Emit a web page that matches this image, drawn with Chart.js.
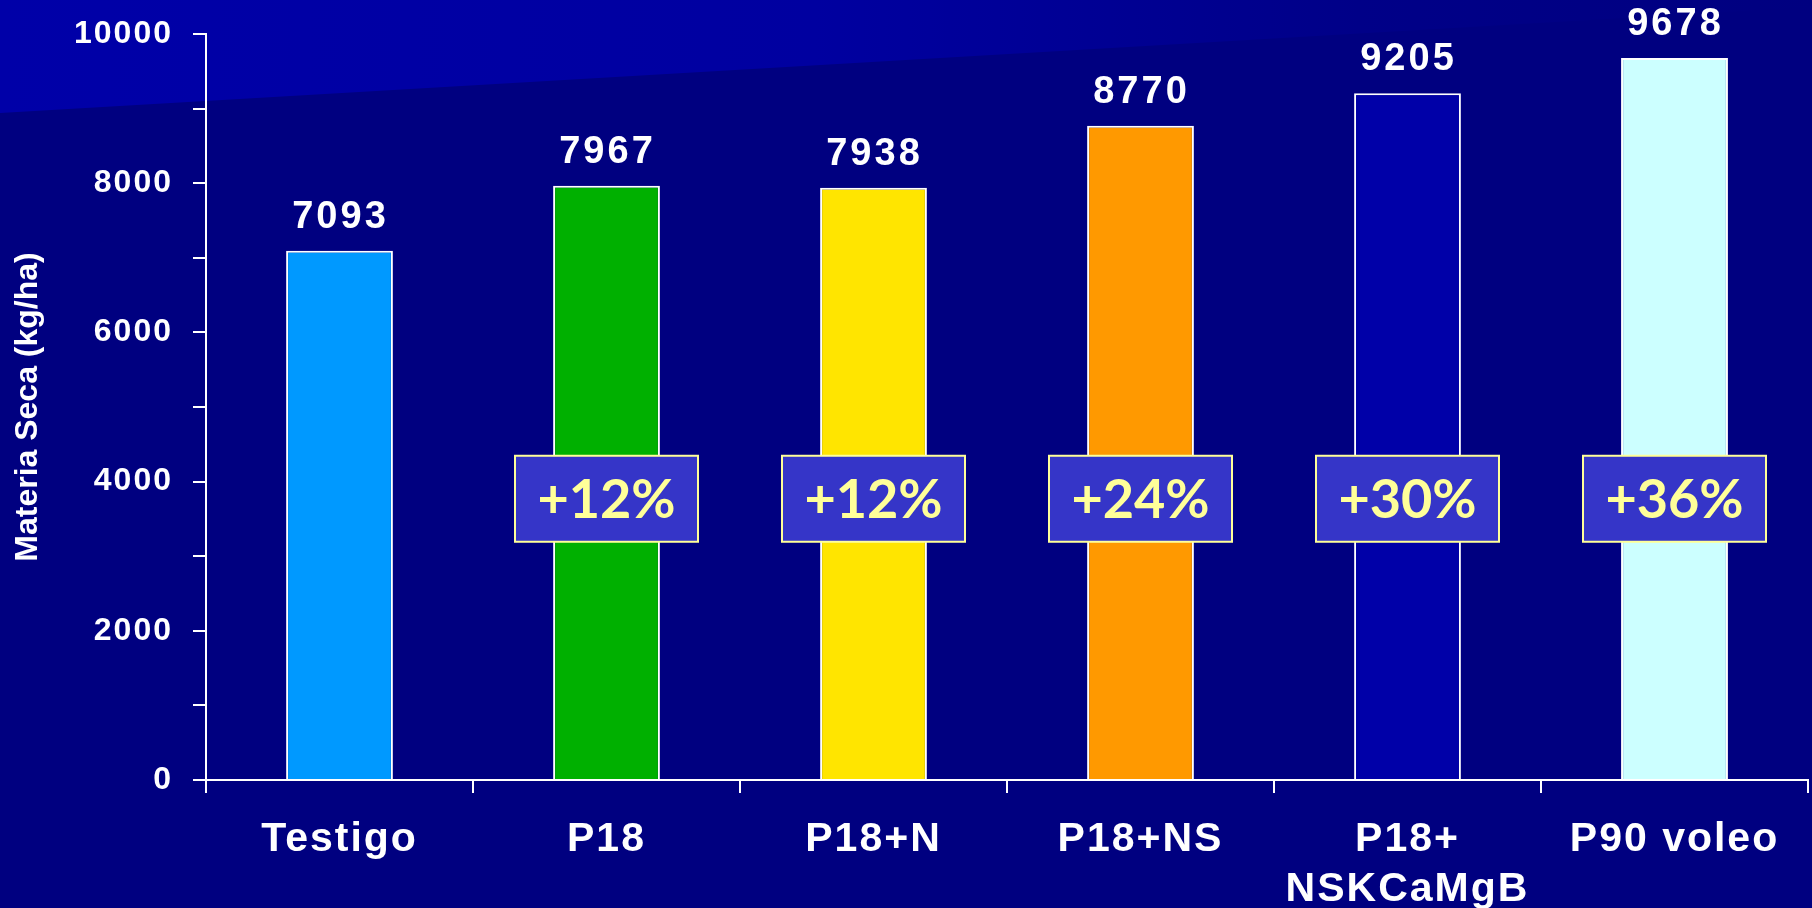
<!DOCTYPE html>
<html lang="es">
<head>
<meta charset="UTF-8">
<title>Materia Seca</title>
<script src="https://cdn.jsdelivr.net/npm/chart.js"></script>
<style>
    html, body { margin: 0; padding: 0; background: #000080; overflow: hidden; }
</style>
</head>
<body>

<canvas id="myBarChart" width="1812" height="908"></canvas>

<script>
// data
var categories = ['Testigo', 'P18', 'P18+N', 'P18+NS', ['P18+', 'NSKCaMgB'], 'P90 voleo'];
var materiaSeca = [7093, 7967, 7938, 8770, 9205, 9678];
var increments = ['', '+12%', '+12%', '+24%', '+30%', '+36%'];
var barColors = ['#0099FF', '#00B000', '#FFE500', '#FF9900', '#0000A8', '#CCFFFF'];
var yLabelValues = [0, 2000, 4000, 6000, 8000, 10000];
var yTitle = 'Materia Seca (kg/ha)';

var white = '#FFFFFF';
var boldFont = "'Liberation Sans', Arial, sans-serif";

// slide background with the lighter band in the top-left corner
var backgroundPlugin = {
    id: 'slideBackground',
    beforeDraw: function (chart) {
        var ctx = chart.ctx;
        var w = chart.width;
        ctx.save();
        ctx.fillStyle = '#000080';
        ctx.fillRect(0, 0, w, chart.height);
        var grad = ctx.createLinearGradient(0, 0, w, 0);
        grad.addColorStop(0, 'rgb(0,0,168)');
        grad.addColorStop(0.45, 'rgb(0,0,160)');
        grad.addColorStop(0.75, 'rgb(0,0,136)');
        grad.addColorStop(1, 'rgb(0,0,128)');
        ctx.fillStyle = grad;
        ctx.beginPath();
        ctx.moveTo(0, 0);
        ctx.lineTo(w, 0);
        ctx.lineTo(w, 7);
        ctx.lineTo(0, 113);
        ctx.closePath();
        ctx.fill();
        ctx.restore();
        // the slide text is slightly spaced out
        ctx.letterSpacing = '2px';
    }
};

// value on top of each bar, the yellow percentage boxes and the y title
var annotationPlugin = {
    id: 'barAnnotations',
    afterDatasetsDraw: function (chart, args, opts) {
        var ctx = chart.ctx;
        var meta = chart.getDatasetMeta(0);
        var yScale = chart.scales.y;
        var xScale = chart.scales.x;
        var area = chart.chartArea;

        ctx.save();
        ctx.letterSpacing = '3px';
        ctx.fillStyle = white;
        ctx.font = 'bold 38px ' + boldFont;
        ctx.textAlign = 'center';
        ctx.textBaseline = 'alphabetic';
        meta.data.forEach(function (bar, i) {
            ctx.fillText(String(materiaSeca[i]), bar.x + 1, bar.y - 23);
        });
        ctx.restore();

        ctx.save();
        ctx.letterSpacing = '0px';
        var boxW = 183, boxH = 86;
        var cy = yScale.getPixelForValue(opts.boxValue);
        increments.forEach(function (txt, i) {
            if (!txt) return;
            var cx = xScale.getPixelForValue(i);
            ctx.fillStyle = '#3535C8';
            ctx.fillRect(cx - boxW / 2, cy - boxH / 2, boxW, boxH);
            ctx.strokeStyle = '#FFFF99';
            ctx.lineWidth = 2;
            ctx.strokeRect(cx - boxW / 2, cy - boxH / 2, boxW, boxH);
            ctx.fillStyle = '#FFFF99';
            ctx.font = "bold 54px 'Comic Sans MS', Lato, sans-serif";
            ctx.textAlign = 'center';
            ctx.textBaseline = 'middle';
            ctx.fillText(txt, cx, cy + 2);
        });
        ctx.restore();

        // rotated axis title, plain spacing
        ctx.save();
        ctx.letterSpacing = '0px';
        ctx.translate(28, (area.top + area.bottom) / 2);
        ctx.rotate(-Math.PI / 2);
        ctx.fillStyle = white;
        ctx.font = 'bold 32px ' + boldFont;
        ctx.textAlign = 'center';
        ctx.textBaseline = 'middle';
        ctx.fillText(yTitle, 0, 0);
        ctx.restore();
    }
};

var ctxBar = document.getElementById('myBarChart').getContext('2d');
var myBarChart = new Chart(ctxBar, {
    type: 'bar',
    data: {
        labels: categories,
        datasets: [{
            data: materiaSeca,
            backgroundColor: barColors,
            borderColor: white,
            borderWidth: 2,
            categoryPercentage: 1,
            barPercentage: 0.4
        }]
    },
    options: {
        responsive: false,
        animation: false,
        layout: { padding: { top: 34, right: 4, left: 0, bottom: 0 } },
        plugins: {
            legend: { display: false },
            tooltip: { enabled: false },
            barAnnotations: { boxValue: 3770 }
        },
        scales: {
            x: {
                grid: { offset: true, drawOnChartArea: false, color: white, lineWidth: 2, tickLength: 13 },
                border: { color: white, width: 2 },
                ticks: {
                    color: white,
                    font: { family: boldFont, size: 41, weight: 'bold', lineHeight: 1.22 },
                    padding: 22,
                    maxRotation: 0,
                    autoSkip: false
                },
                afterFit: function (scale) { scale.height = 128; }
            },
            y: {
                min: 0,
                max: 10000,
                grid: { drawOnChartArea: false, color: white, lineWidth: 2, tickLength: 13 },
                border: { color: white, width: 2 },
                ticks: {
                    stepSize: 1000,
                    color: white,
                    padding: 20,
                    font: { family: boldFont, size: 32, weight: 'bold', lineHeight: 0.8 },
                    callback: function (value) {
                        return yLabelValues.indexOf(value) >= 0 ? value : '';
                    }
                },
                afterFit: function (scale) { scale.width = 206; }
            }
        }
    },
    plugins: [backgroundPlugin, annotationPlugin]
});
</script>

</body>
</html>
